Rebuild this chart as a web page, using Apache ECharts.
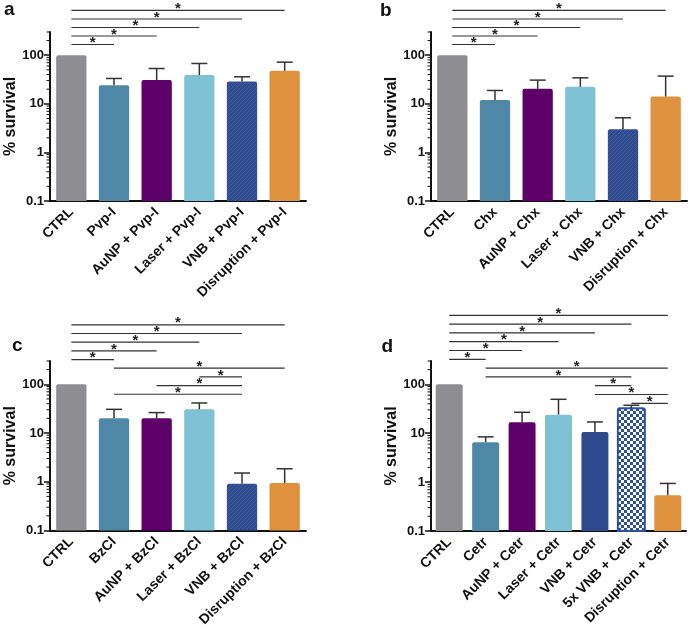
<!DOCTYPE html>
<html><head><meta charset="utf-8">
<script src="https://cdn.jsdelivr.net/npm/echarts@6/dist/echarts.min.js"></script>
<style>html,body{margin:0;padding:0;background:#fff}#c{width:689px;height:631px}</style>
</head><body><div id="c"></div>
<script>
// ---------- DATA ----------
const catsA = ['CTRL', 'Pvp-I', 'AuNP + Pvp-I', 'Laser + Pvp-I', 'VNB + Pvp-I', 'Disruption + Pvp-I'];
const meanA = [100, 24.2, 30.7, 38.9, 28.8, 47.6];
const errA  = [0, 9.0, 22.5, 28.6, 7.1, 24.2];
const cmpA  = [[0, 1], [0, 2], [0, 3], [0, 4], [0, 5]];

const catsB = ['CTRL', 'Chx', 'AuNP + Chx', 'Laser + Chx', 'VNB + Chx', 'Disruption + Chx'];
const meanB = [100, 11.9, 20.3, 22.3, 3.0, 14.2];
const errB  = [0, 6.9, 10.4, 11.9, 2.16, 22.9];
const cmpB  = [[0, 1], [0, 2], [0, 3], [0, 4], [0, 5]];

const catsC = ['CTRL', 'BzCl', 'AuNP + BzCl', 'Laser + BzCl', 'VNB + BzCl', 'Disruption + BzCl'];
const meanC = [100, 20.0, 20.0, 30.6, 0.91, 0.94];
const errC  = [0, 10.6, 6.2, 10.7, 0.6, 0.91];
const cmpC  = [[1, 4], [2, 4], [3, 4], [1, 5], [0, 1], [0, 2], [0, 3], [0, 4], [0, 5]];

const catsD = ['CTRL', 'Cetr', 'AuNP + Cetr', 'Laser + Cetr', 'VNB + Cetr', '5x VNB + Cetr', 'Disruption + Cetr'];
const meanD = [100, 6.55, 16.8, 24.0, 10.6, 32.4, 0.54];
const errD  = [0, 1.87, 10.0, 25.4, 6.4, 4.9, 0.40];
const cmpD  = [[5, 6], [4, 6], [4, 5], [1, 5], [1, 6], [0, 1], [0, 2], [0, 3], [0, 4], [0, 5], [0, 6]];

const yTicks = [0.1, 1, 10, 100];
const yMinorTicks = [0.2,0.3,0.4,0.5,0.6,0.7,0.8,0.9,2,3,4,5,6,7,8,9,20,30,40,50,60,70,80,90,200,300];
const Y_MIN = 0.1, Y_MAX = 300;

// ---------- STYLE ----------
const FONT = '"Liberation Sans", Arial, sans-serif';
function makePattern(kind) {
  const cv = document.createElement('canvas');
  if (kind === 'hatch') {
    cv.width = 4; cv.height = 4;
    const g = cv.getContext('2d');
    g.fillStyle = '#2f4b8d'; g.fillRect(0, 0, 4, 4);
    g.strokeStyle = '#3f5e9f'; g.lineWidth = 1;
    g.beginPath(); g.moveTo(0, 4); g.lineTo(4, 0); g.stroke();
    g.beginPath(); g.moveTo(-1, 1); g.lineTo(1, -1); g.stroke();
    g.beginPath(); g.moveTo(3, 5); g.lineTo(5, 3); g.stroke();
  } else {
    cv.width = 6; cv.height = 6;
    const g = cv.getContext('2d');
    g.fillStyle = '#ffffff'; g.fillRect(0, 0, 6, 6);
    g.fillStyle = '#2d50a2'; g.fillRect(0, 0, 3, 3); g.fillRect(3, 3, 3, 3);
  }
  return { image: cv, repeat: 'repeat' };
}
const HATCH = makePattern('hatch');
const CHECK = makePattern('check');
const C_GRAY = '#8e8d92', C_TEAL = '#4f88a6', C_PURP = '#5d0069', C_LIGHT = '#7fc1d5', C_DARK = '#2f4b8d', C_ORANGE = '#de923d';
const fills6 = [C_GRAY, C_TEAL, C_PURP, C_LIGHT, HATCH, C_ORANGE];
const fills7 = [C_GRAY, C_TEAL, C_PURP, C_LIGHT, C_DARK, CHECK, C_ORANGE];

const panels = [
  { cats: catsA, mean: meanA, err: errA, cmp: cmpA, fills: fills6, grid: { left: 50, top: 32, width: 256, height: 169 }, ratio: 0.71, base: 2.22, step: 0.175 },
  { cats: catsB, mean: meanB, err: errB, cmp: cmpB, fills: fills6, grid: { left: 431, top: 32, width: 256, height: 169 }, ratio: 0.71, base: 2.22, step: 0.175 },
  { cats: catsC, mean: meanC, err: errC, cmp: cmpC, fills: fills6, grid: { left: 50, top: 361, width: 256, height: 169.5 }, ratio: 0.71, base: 1.795, step: 0.178 },
  { cats: catsD, mean: meanD, err: errD, cmp: cmpD, fills: fills7, grid: { left: 431, top: 361, width: 255, height: 170 }, ratio: 0.74, base: 1.612, step: 0.18 }
];

const grids = [], xAxes = [], yAxes = [], series = [];
panels.forEach((p, k) => {
  grids.push(Object.assign({ containLabel: false }, p.grid));
  xAxes.push({
    type: 'category', gridIndex: k, data: p.cats,
    axisLine: { lineStyle: { color: '#111', width: 2 } },
    axisTick: { alignWithLabel: true, length: 5, lineStyle: { color: '#111', width: 1.5 } },
    axisLabel: { rotate: 45, interval: 0, margin: 9, color: '#111', fontWeight: 'bold', fontSize: 14, fontFamily: FONT }
  });
  yAxes.push({
    type: 'log', gridIndex: k, min: Y_MIN, max: Y_MAX, logBase: 10,
    name: '% survival', nameLocation: 'middle', nameGap: 30,
    nameTextStyle: { color: '#111', fontWeight: 'bold', fontSize: 16, fontFamily: FONT },
    axisLine: { show: true, lineStyle: { color: '#111', width: 2 } },
    axisTick: { show: true, length: 6, lineStyle: { color: '#111', width: 1.5 } },
    splitLine: { show: false },
    axisLabel: {
      margin: 6, color: '#111', fontWeight: 'bold', fontSize: 13, fontFamily: FONT,
      showMaxLabel: false,
      formatter: v => (yTicks.some(t => Math.abs(t - v) < 1e-9 * Math.max(1, v)) ? (v < 1 ? v.toFixed(1) : String(Math.round(v))) : '')
    }
  });
  // bars
  series.push({
    type: 'custom', xAxisIndex: k, yAxisIndex: k, silent: true,
    data: p.mean.map((v, i) => [i, v]),
    encode: { x: 0, y: 1 },
    renderItem: (params, api) => {
      const i = api.value(0), v = api.value(1);
      const top = api.coord([i, v]);
      const bot = api.coord([i, Y_MIN]);
      const bw = api.size([1, 0], [i, 1])[0] * p.ratio;
      const fill = p.fills[i];
      const isCheck = fill === CHECK;
      return {
        type: 'rect',
        shape: { x: top[0] - bw / 2, y: top[1], width: bw, height: bot[1] - top[1], r: [2, 2, 0, 0] },
        style: isCheck ? { fill: fill, stroke: '#2d50a2', lineWidth: 2 } : { fill: fill }
      };
    }
  });
  // error bars
  series.push({
    type: 'custom', xAxisIndex: k, yAxisIndex: k, silent: true,
    data: p.mean.map((v, i) => [i, v, p.err[i]]),
    encode: { x: 0, y: 1 },
    renderItem: (params, api) => {
      const i = api.value(0), v = api.value(1), e = api.value(2);
      if (!e) return null;
      const a = api.coord([i, v]);
      const b = api.coord([i, v + e]);
      const st = { stroke: '#333', lineWidth: 1.5 };
      return {
        type: 'group', children: [
          { type: 'line', shape: { x1: a[0], y1: a[1], x2: b[0], y2: b[1] }, style: st },
          { type: 'line', shape: { x1: b[0] - 8, y1: b[1], x2: b[0] + 8, y2: b[1] }, style: st }
        ]
      };
    }
  });
  // significance brackets
  series.push({
    type: 'custom', xAxisIndex: k, yAxisIndex: k, silent: true, clip: false,
    data: p.cmp.map((c, n) => [c[0], c[1], n]),
    encode: { x: 0 },
    renderItem: (params, api) => {
      const i = api.value(0), j = api.value(1), n = api.value(2);
      const yv = Math.pow(10, p.base + n * p.step);
      const a = api.coord([i, yv]);
      const b = api.coord([j, yv]);
      return {
        type: 'group', children: [
          { type: 'line', shape: { x1: a[0], y1: a[1], x2: b[0], y2: b[1] }, style: { stroke: '#333', lineWidth: 1.2 } },
          { type: 'text', style: { x: (a[0] + b[0]) / 2, y: a[1] - 1.5, text: '*', align: 'center', verticalAlign: 'middle', font: 'bold 15px ' + FONT, fill: '#222' } }
        ]
      };
    }
  });
  // minor ticks on the log axis
  series.push({
    type: 'custom', xAxisIndex: k, yAxisIndex: k, silent: true,
    data: yMinorTicks.map(v => [0, v]),
    encode: { x: 0, y: 1 },
    renderItem: (params, api) => {
      const y = api.coord([0, api.value(1)])[1];
      const x = params.coordSys.x;
      return { type: 'line', shape: { x1: x - 3.5, y1: y, x2: x, y2: y }, style: { stroke: '#111', lineWidth: 1 } };
    }
  });
});

const letters = [
  { t: 'a', x: 4, y: 10 }, { t: 'b', x: 380, y: 10.5 }, { t: 'c', x: 12, y: 345.5 }, { t: 'd', x: 381.5, y: 347 }
];

const chart = echarts.init(document.getElementById('c'), null, { renderer: 'canvas' });
chart.setOption({
  animation: false,
  backgroundColor: '#fff',
  grid: grids, xAxis: xAxes, yAxis: yAxes, series: series,
  graphic: letters.map(l => ({
    type: 'text', x: l.x, y: l.y,
    style: { text: l.t, font: 'bold 19px ' + FONT, fill: '#111', verticalAlign: 'middle' }
  }))
});
</script>
</body></html>
